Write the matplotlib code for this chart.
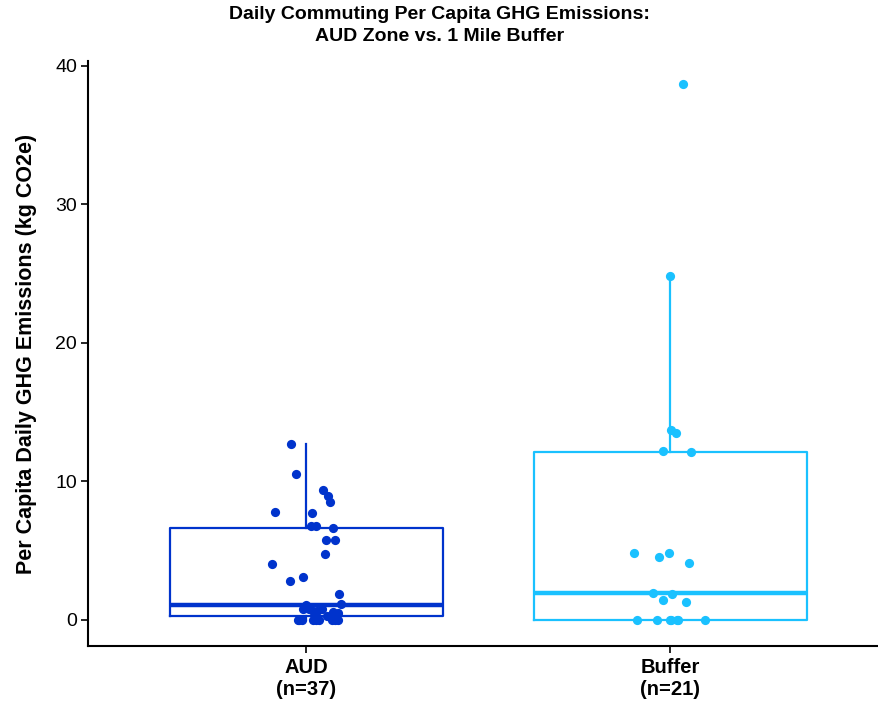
import numpy as np
import matplotlib
matplotlib.use("Agg")
import matplotlib.pyplot as plt

plt.rcParams['font.family'] = ['Liberation Sans', 'DejaVu Sans']

# data
groups = ['AUD', 'Buffer']
group_n = [37, 21]
colors = ['#0033CC', '#1AC1FF']

aud_values = [12.69, 10.5, 9.37, 8.9, 8.53, 7.77, 7.7, 6.78, 6.78, 6.59,
              5.72, 5.72, 4.73, 4.04, 3.08, 2.79, 1.87, 1.13, 1.08,
              0.75, 0.6, 0.75, 0.55, 0.45, 0.8, 0.65, 0.24, 0.35,
              0, 0, 0, 0, 0, 0, 0, 0, 0]
# horizontal jitter as seen in the picture (category units)
aud_jitter = [-0.043, -0.029, 0.046, 0.060, 0.066, -0.085, 0.016, 0.014, 0.027, 0.072,
              0.053, 0.080, 0.051, -0.094, -0.010, -0.046, 0.089, 0.095, -0.002,
              -0.009, 0.019, 0.042, 0.074, 0.087, 0.007, 0.029, 0.056, 0.081,
              -0.024, -0.013, 0.019, 0.034, 0.071, 0.088, -0.019, 0.026, 0.078]

buffer_values = [38.7, 24.82, 13.72, 13.48, 12.18, 12.09, 4.84, 4.80, 4.51, 4.08,
                 1.96, 1.87, 1.42, 1.27, 0, 0, 0, 0, 0, 0, 0]
buffer_jitter = [0.035, -0.002, 0.001, 0.016, -0.021, 0.057, -0.004, -0.099, -0.030, 0.051,
                 -0.047, 0.004, -0.021, 0.042, -0.091, -0.038, -0.001, 0.021, 0.096, 0.001, 0.018]

values = [aud_values, buffer_values]
jitters = [aud_jitter, buffer_jitter]

fig = plt.figure(figsize=(8.79, 7.06), dpi=100)
ax = fig.add_axes([0.1001, 0.085, 0.911, 0.8286])

for i, (vals, jit, col) in enumerate(zip(values, jitters, colors)):
    pos = i + 1
    ax.boxplot(vals, positions=[pos], widths=0.75, whis=1.5, showfliers=False,
               showcaps=False, patch_artist=False,
               boxprops=dict(color=col, linewidth=1.6),
               whiskerprops=dict(color=col, linewidth=1.6),
               medianprops=dict(color=col, linewidth=3.2))
    ax.scatter(pos + np.array(jit), vals, s=44, color=col, zorder=3, linewidths=0)

ax.set_xlim(0.4, 2.6)
ax.set_ylim(-1.9, 40.35)
ax.set_yticks([0, 10, 20, 30, 40])
ax.set_xticks([1, 2])
ax.set_xticklabels(['%s\n(n=%d)' % (g, n) for g, n in zip(groups, group_n)],
                   fontsize=14.5, fontweight='bold', linespacing=1.15)
ax.tick_params(axis='y', labelsize=14, length=5, width=1.2, pad=3)
ax.tick_params(axis='x', length=5, width=1.2, pad=4)

ax.spines['top'].set_visible(False)
ax.spines['right'].set_visible(False)
ax.spines['left'].set_linewidth(1.5)
ax.spines['bottom'].set_linewidth(1.5)

ax.set_ylabel('Per Capita Daily GHG Emissions (kg CO2e)', fontsize=15.5,
              fontweight='bold', labelpad=13)

fig.suptitle('Daily Commuting Per Capita GHG Emissions:\nAUD Zone vs. 1 Mile Buffer',
             x=0.5, y=0.991, va='top', fontsize=14, fontweight='bold', linespacing=1.35)

fig.savefig('out.png', dpi=100)
